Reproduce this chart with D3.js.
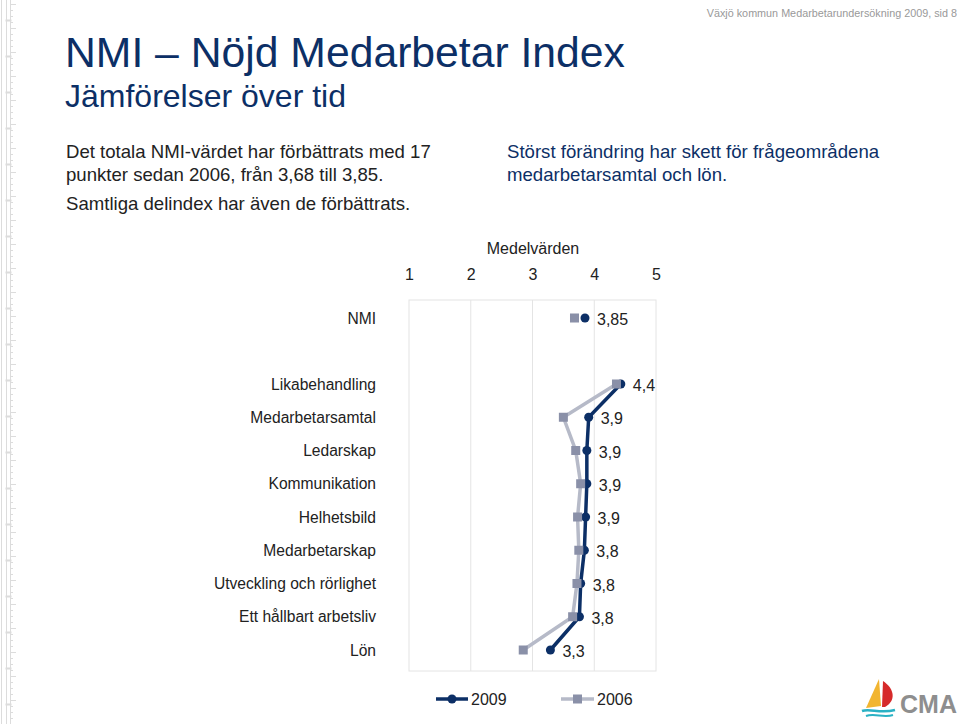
<!DOCTYPE html>
<html><head><meta charset="utf-8">
<script src="https://cdn.jsdelivr.net/npm/d3@7"></script>
<style>
html,body{margin:0;padding:0;background:#fff;}
svg{display:block;font-family:"Liberation Sans",Arial,sans-serif;}
</style></head>
<body>
<svg id="c" width="960" height="724"></svg>
<script>
const categories = ["NMI","Likabehandling","Medarbetarsamtal","Ledarskap","Kommunikation","Helhetsbild","Medarbetarskap","Utveckling och rörlighet","Ett hållbart arbetsliv","Lön"];
const values2009 = [3.85, 4.43, 3.91, 3.88, 3.88, 3.86, 3.84, 3.78, 3.76, 3.29];
const values2006 = [3.68, 4.36, 3.50, 3.70, 3.78, 3.73, 3.75, 3.72, 3.65, 2.85];
const labels2009 = ["3,85","4,4","3,9","3,9","3,9","3,9","3,8","3,8","3,8","3,3"];
const ticks = [1,2,3,4,5];
const seriesNames = ["2009","2006"];

const svg = d3.select("#c");
const navy = "#0c2f66", light = "#b6bac8", sq = "#8a90a8";

// left ruler decoration
const rul = svg.append("g").attr("stroke","#dcdcdc").attr("stroke-width",1);
[1.5,6.5,10.5].forEach(x=>rul.append("line").attr("x1",x).attr("x2",x).attr("y1",0).attr("y2",724));
d3.range(4,724,6).forEach((y,i)=>{
  rul.append("line").attr("x1",10).attr("x2", i%4===0?16:13).attr("y1",y+0.5).attr("y2",y+0.5);
});
d3.range(20,724,36).forEach(y=>rul.append("rect").attr("x",6).attr("y",y).attr("width",5).attr("height",1).attr("fill","#c4c4c4"));

// header
svg.append("text").attr("x",957).attr("y",17).attr("text-anchor","end")
  .attr("font-size",10.8).attr("fill","#999").text("Växjö kommun Medarbetarundersökning 2009,  sid 8");

svg.append("text").attr("x",65).attr("y",67).attr("font-size",42.7).attr("fill",navy)
  .text("NMI – Nöjd Medarbetar Index");
svg.append("text").attr("x",65).attr("y",107).attr("font-size",32).attr("fill",navy)
  .text("Jämförelser över tid");

const body = [["Det totala NMI-värdet har förbättrats med 17",158],["punkter sedan 2006, från 3,68 till 3,85.",181],["Samtliga delindex har även de förbättrats.",210]];
body.forEach(([t,y])=>svg.append("text").attr("x",66).attr("y",y).attr("font-size",18.6).attr("fill","#222").text(t));
[["Störst förändring har skett för frågeområdena",158],["medarbetarsamtal och lön.",181]].forEach(([t,y])=>
  svg.append("text").attr("x",507).attr("y",y).attr("font-size",18.6).attr("fill",navy).text(t));

// chart
const x = d3.scaleLinear().domain([1,5]).range([409,656]);
const yPos = (c,i)=> i===0 ? 318 : 384 + (i-1)*33.25;

const g = svg.append("g");
g.append("rect").attr("x",x(1)).attr("y",300).attr("width",x(5)-x(1)).attr("height",371)
  .attr("fill","none").attr("stroke","#e4e4e4");
ticks.slice(1,-1).forEach(t=>g.append("line").attr("x1",x(t)).attr("x2",x(t)).attr("y1",300).attr("y2",671).attr("stroke","#e4e4e4"));

const axis = d3.axisTop(x).tickValues(ticks).tickSize(0).tickFormat(d3.format("d"));
const ag = svg.append("g").attr("transform","translate(0,283)").call(axis);
ag.select(".domain").remove();
ag.selectAll("text").attr("font-size",16).attr("fill","#222").attr("font-family","Liberation Sans, Arial, sans-serif");

svg.append("text").attr("x",533).attr("y",254).attr("text-anchor","middle").attr("font-size",16).attr("fill","#222").text("Medelvärden");

categories.forEach((c,i)=>svg.append("text").attr("x",376).attr("y",yPos(c,i)+5.5).attr("text-anchor","end")
  .attr("font-size",15.6).attr("fill","#222").text(c));

const idx = d3.range(1,categories.length);
const line = arr => d3.line().x(i=>x(arr[i])).y(i=>yPos(categories[i],i));
g.append("path").attr("d",line(values2006)(idx)).attr("fill","none").attr("stroke",light).attr("stroke-width",3.5);
g.append("path").attr("d",line(values2009)(idx)).attr("fill","none").attr("stroke",navy).attr("stroke-width",3.5);

categories.forEach((c,i)=>{
  g.append("circle").attr("cx",x(values2009[i])).attr("cy",yPos(c,i)).attr("r",4.5).attr("fill",navy);
});
categories.forEach((c,i)=>{
  g.append("rect").attr("x",x(values2006[i])-4.5).attr("y",yPos(c,i)-4.5).attr("width",9).attr("height",9).attr("fill",sq);
});
categories.forEach((c,i)=>{
  g.append("text").attr("x",x(values2009[i])+12).attr("y",yPos(c,i)+7).attr("font-size",16).attr("fill","#222").text(labels2009[i]);
});

// legend
const leg = svg.append("g");
leg.append("line").attr("x1",436).attr("x2",468).attr("y1",699).attr("y2",699).attr("stroke",navy).attr("stroke-width",3.5);
leg.append("circle").attr("cx",452).attr("cy",699).attr("r",4.5).attr("fill",navy);
leg.append("text").attr("x",471).attr("y",705).attr("font-size",16).attr("fill","#222").text(seriesNames[0]);
leg.append("line").attr("x1",561).attr("x2",594).attr("y1",699).attr("y2",699).attr("stroke",light).attr("stroke-width",3.5);
leg.append("rect").attr("x",573).attr("y",694.5).attr("width",9).attr("height",9).attr("fill",sq);
leg.append("text").attr("x",597).attr("y",705).attr("font-size",16).attr("fill","#222").text(seriesNames[1]);

// CMA logo
const logo = svg.append("g");
logo.append("path").attr("d","M879,679 L866,708 L881,706 Z").attr("fill","#f2b530");
logo.append("path").attr("d","M883,681 C895,689 896,701 885,707 L882,707 Z").attr("fill","#d62a2a");
logo.append("path").attr("d","M862,711 C870,708 880,714 895,710").attr("stroke","#2ab1c4").attr("stroke-width",2.5).attr("fill","none");
logo.append("path").attr("d","M866,716 C874,713 884,718 893,715").attr("stroke","#2ab1c4").attr("stroke-width",2).attr("fill","none");
logo.append("text").attr("x",957).attr("y",713).attr("text-anchor","end").attr("font-size",25).attr("font-weight","bold").attr("fill","#8e8e8e").text("CMA");
</script>
</body></html>
